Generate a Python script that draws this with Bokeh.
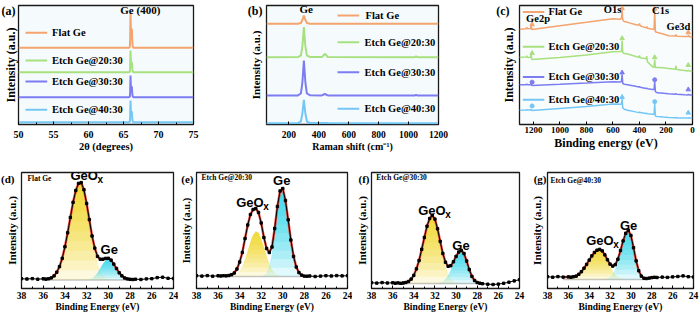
import numpy as np
from bokeh.plotting import figure
from bokeh.models import Range1d, Label, FixedTicker
from bokeh.layouts import column, row
from bokeh.embed import file_html
from bokeh.resources import INLINE

SERIF = "Liberation Serif"
SANS = "Liberation Sans"

SERIES_NAMES = ["Flat Ge", "Etch Ge@20:30", "Etch Ge@30:30", "Etch Ge@40:30"]
SERIES_COLORS = ["#F4A46E", "#A7E07E", "#7D7DF2", "#74C7F5"]

# ---------------- (a) XRD ----------------
xrd_2theta = [50, 65.8, 65.9, 65.95, 66.0, 66.05, 66.1, 66.15, 66.2, 66.25, 66.3, 66.4, 75]
xrd_flat = [76.7, 76.7, 77.2, 84.7, 112.3, 96.7, 86.7, 95.7, 94.7, 84.7, 78.7, 76.7, 76.7]
xrd_e20 = [52.3, 52.3, 52.6, 57.3, 74.0, 64.3, 58.3, 62.3, 61.8, 56.3, 53.3, 52.3, 52.3]
xrd_e30 = [27.3, 27.3, 27.6, 32.3, 49.0, 39.3, 33.3, 38.0, 37.3, 31.3, 28.3, 27.3, 27.3]
xrd_e40 = [2.3, 2.3, 2.6, 7.3, 24.0, 14.3, 8.3, 13.0, 12.3, 6.3, 3.3, 2.3, 2.3]
xrd_ticks = [50, 55, 60, 65, 70, 75]
xrd_minor = [52.5, 57.5, 62.5, 67.5, 72.5]
xrd_legend_y = [91.7, 64.0, 43.0, 14.7]

# ---------------- (b) Raman ----------------
raman_shift = [50, 260, 280, 290, 300, 310, 320, 340, 420, 440, 460, 1040, 1050, 1060, 1200]
raman_flat = [100.7, 100.7, 101.5, 104.5, 109.0, 104.5, 101.5, 100.7, 100.7, 100.7, 100.7, 100.7, 100.7, 100.7, 100.7]
raman_e20 = [67.3, 67.4, 69.0, 78.0, 97.3, 78.0, 69.0, 67.6, 67.4, 70.7, 67.5, 67.3, 68.0, 67.3, 67.3]
raman_e30 = [29.0, 29.1, 31.0, 42.0, 64.0, 42.0, 31.0, 29.3, 29.1, 30.5, 29.1, 29.0, 29.6, 29.0, 29.0]
raman_e40 = [1.3, 1.4, 3.0, 11.0, 24.7, 11.0, 3.0, 1.5, 1.4, 1.6, 1.4, 1.3, 1.3, 1.3, 1.3]
raman_ticks = [200, 400, 600, 800, 1000, 1200]
raman_legend_y = [109.0, 82.3, 52.3, 15.7]

# ---------------- (c) XPS survey ----------------
surv_be = [1305, 1255, 1250, 1245, 1222, 1217, 1212, 1000, 800, 600, 545, 536, 531, 526, 515, 490,
           420, 405, 400, 395, 350, 345, 340, 300, 290, 285, 280, 265, 220, 180, 130, 125, 120,
           60, 35, 30, 25, 0]
surv_flat = [100.0, 100.6, 102.0, 100.7, 100.9, 103.3, 99.8, 103.7, 107.3, 111.0, 110.6, 111.5, 120.0, 110.0, 108.2, 107.3,
             104.5, 104.5, 106.0, 103.8, 101.5, 103.0, 101.0, 100.0, 99.8, 120.0, 97.5, 96.7, 95.0, 93.3, 92.9, 94.5, 92.8,
             92.5, 92.4, 94.0, 92.3, 92.3]
surv_e20 = [70.7, 70.8, 72.0, 70.6, 70.5, 74.0, 68.3, 70.5, 73.0, 76.5, 76.7, 77.0, 88.3, 75.5, 74.5, 74.0,
            71.2, 70.7, 72.5, 70.0, 69.0, 71.7, 66.0, 60.5, 60.2, 68.3, 59.8, 60.0, 59.5, 58.8, 58.0, 61.7, 57.8,
            56.8, 56.3, 57.5, 56.2, 56.0]
surv_e30 = [41.7, 41.8, 42.3, 41.8, 41.8, 42.8, 41.0, 42.2, 43.5, 45.0, 44.6, 45.0, 52.7, 43.2, 42.3, 41.7,
            39.8, 39.4, 39.8, 39.2, 37.9, 38.3, 37.6, 36.8, 36.7, 45.0, 34.5, 33.3, 32.8, 32.3, 31.9, 32.4, 31.8,
            31.3, 31.1, 31.8, 31.0, 31.0]
surv_e40 = [15.0, 15.1, 15.8, 15.1, 15.1, 16.0, 14.8, 16.8, 18.8, 21.5, 21.3, 21.6, 26.7, 17.5, 16.0, 15.0,
            13.0, 12.6, 13.0, 12.5, 11.5, 11.8, 11.2, 10.8, 10.7, 21.7, 8.8, 8.3, 7.8, 7.4, 7.0, 7.4, 6.9,
            6.8, 6.7, 7.2, 6.7, 6.7]
surv_ticks = [1200, 1000, 800, 600, 400, 200, 0]
surv_legend_y = [118.3, 81.7, 50.0, 26.0]
surv_mark_be = [1210, 531, 285, 32]
surv_mark_flat = [105.0, 122.0, 121.5, 96.7]
surv_mark_e20 = [75.0, 90.5, 70.5, 62.3]
surv_mark_e30 = [44.5, 54.5, 47.0, 36.7]
surv_mark_e40 = [19.5, 28.8, 24.0, 12.3]

# ---------------- (d)-(g) Ge 3d ----------------
be_grid = [38, 37.5, 37, 36.5, 36, 35.75, 35.5, 35.25, 35, 34.75, 34.5, 34.25, 34, 33.75, 33.5, 33.25,
           33, 32.75, 32.5, 32.25, 32, 31.75, 31.5, 31.25, 31, 30.75, 30.5, 30.25, 30, 29.75, 29.5, 29.25,
           29, 28.75, 28.5, 28.25, 28, 27.75, 27.5, 27, 26.5, 26, 25.5, 25, 24.5, 24]
be_ticks = [38, 36, 34, 32, 30, 28, 26, 24]
be_minor = [37, 35, 33, 31, 29, 27, 25]

d_data = [9.8, 9.5, 9.9, 9.3, 9.7, 9.4, 9.8, 10.6, 12.6, 16.3, 21.9, 30.1, 41.8, 55.7, 71.0, 86.2,
          98.0, 105.1, 105.9, 98.8, 85.0, 68.9, 52.5, 40.4, 32.1, 29.3, 29.3, 30.1, 30.2, 28.4, 24.4, 20.0,
          15.7, 12.6, 10.5, 9.6, 9.2, 9.0, 9.3, 9.0, 9.6, 9.8, 10.9, 11.3, 10.2, 10.0]
d_geox = [0, 0, 0, 0, 0.2, 0.4, 0.9, 2.0, 4.0, 7.6, 13.3, 21.7, 33.1, 47.1, 62.6, 77.5,
          89.7, 96.8, 97.3, 90.0, 76.4, 59.4, 42.4, 27.8, 16.7, 9.2, 4.6, 2.1, 0.9, 0.4, 0.1, 0,
          0, 0, 0, 0, 0, 0, 0, 0, 0, 0, 0, 0, 0, 0]
d_ge = [0, 0, 0, 0, 0, 0, 0, 0, 0, 0, 0, 0, 0, 0, 0, 0,
        0, 0, 0, 0.1, 0.3, 0.8, 1.8, 3.9, 7.1, 11.4, 16.0, 19.6, 21.0, 19.6, 16.0, 11.4,
        7.1, 3.9, 1.8, 0.8, 0.3, 0.1, 0, 0, 0, 0, 0, 0, 0, 0]
d_base = 8.5

e_data = [12.8, 12.4, 12.9, 12.3, 12.7, 12.5, 12.8, 12.6, 13.0, 13.8, 15.5, 19.5, 26.5, 36.0, 50.0, 63.5,
          74.0, 79.0, 80.0, 76.0, 65.5, 51.0, 40.0, 36.0, 41.5, 60.0, 82.0, 97.5, 100.0, 88.0, 68.7, 48.5,
          32.1, 21.5, 15.9, 13.4, 12.4, 12.3, 12.5, 12.0, 12.4, 12.8, 12.5, 12.9, 12.6, 12.8]
e_geox = [0, 0, 0, 0, 0, 0, 0, 0, 0.1, 0.4, 1.1, 2.5, 5.3, 10.0, 16.9, 25.5,
          34.4, 41.5, 44.9, 43.4, 37.6, 29.1, 20.2, 12.5, 7.0, 3.4, 1.5, 0.6, 0.2, 0.1, 0, 0,
          0, 0, 0, 0, 0, 0, 0, 0, 0, 0, 0, 0, 0, 0]
e_ge = [0, 0, 0, 0, 0, 0, 0, 0, 0, 0, 0, 0, 0, 0, 0, 0,
        0, 0, 0, 0, 0.2, 1.0, 3.4, 9.9, 23.1, 43.8, 67.5, 84.8, 86.9, 75.8, 56.7, 36.5,
        20.1, 9.5, 3.9, 1.4, 0.4, 0.1, 0, 0, 0, 0, 0, 0, 0, 0]
e_base = 12.0

f_data = [5.8, 5.4, 5.9, 5.5, 5.7, 5.3, 5.6, 5.2, 5.5, 6.0, 7.0, 9.4, 13.1, 19.6, 28.0, 39.2,
          51.0, 62.3, 70.0, 73.1, 69.4, 59.7, 47.1, 35.0, 26.3, 22.2, 22.8, 26.7, 32.1, 36.5, 38.1, 35.0,
          27.5, 18.9, 12.1, 8.0, 6.0, 5.3, 4.8, 4.3, 4.0, 4.4, 5.2, 6.3, 7.6, 8.8]
f_geox = [0, 0, 0, 0, 0, 0, 0, 0.1, 0.4, 0.9, 2.1, 4.3, 8.2, 14.4, 23.1, 34.1,
          46.1, 57.2, 65.1, 68.0, 64.3, 54.4, 41.2, 28.0, 17.0, 9.2, 4.5, 1.9, 0.8, 0.3, 0.1, 0,
          0, 0, 0, 0, 0, 0, 0, 0, 0, 0, 0, 0, 0, 0]
f_ge = [0, 0, 0, 0, 0, 0, 0, 0, 0, 0, 0, 0, 0, 0, 0, 0,
        0, 0, 0, 0, 0.1, 0.3, 0.9, 2.0, 4.3, 8.0, 13.3, 19.8, 26.3, 31.2, 33.0, 30.0,
        22.5, 13.9, 7.1, 3.0, 1.0, 0.3, 0.1, 0, 0, 0, 0, 0, 0, 0]
f_base = 5.0

g_data = [11.8, 11.3, 11.9, 11.4, 11.6, 11.3, 11.8, 12.4, 14.2, 16.8, 20.3, 24.1, 28.4, 32.6, 36.0, 38.3,
          39.1, 37.6, 33.6, 28.7, 24.4, 22.4, 23.9, 29.3, 38.0, 47.6, 55.2, 58.1, 53.0, 40.8, 27.6, 17.8,
          12.4, 10.3, 10.0, 10.4, 10.9, 11.2, 11.0, 11.4, 11.1, 11.6, 12.0, 12.6, 11.8, 11.5]
g_geox = [0, 0, 0, 0.1, 0.6, 1.1, 2.0, 3.3, 5.3, 7.9, 11.3, 15.2, 19.4, 23.5, 26.9, 29.2,
          30.0, 28.5, 24.4, 18.8, 13.0, 8.2, 4.6, 2.3, 1.1, 0.4, 0.2, 0.1, 0, 0, 0, 0,
          0, 0, 0, 0, 0, 0, 0, 0, 0, 0, 0, 0, 0, 0]
g_ge = [0, 0, 0, 0, 0, 0, 0, 0, 0, 0, 0, 0, 0, 0, 0, 0,
        0, 0, 0.3, 0.9, 2.3, 5.2, 10.3, 18.0, 27.9, 38.2, 46.0, 49.0, 44.0, 31.8, 18.6, 8.7,
        3.3, 1.0, 0.2, 0, 0, 0, 0, 0, 0, 0, 0, 0, 0, 0]
g_base = 9.0

YELLOW = "#F1D400"
CYAN = "#10CDE6"
RED = "#E8483C"


def base_fig(width, height, xr, yr, borders, tag, tag_y, tag_size, tag_standoff, ylab_size, ylab_standoff, bg="white"):
    bl, br, bt, bb = borders
    p = figure(width=width, height=height, x_range=Range1d(*xr), y_range=Range1d(*yr),
               output_backend="svg", toolbar_location=None,
               min_border_left=bl, min_border_right=br, min_border_top=bt, min_border_bottom=bb)
    p.background_fill_color = bg
    p.border_fill_color = "white"
    p.outline_line_color = "#1a1a1a"
    p.outline_line_width = 1.3
    p.xgrid.visible = False
    p.ygrid.visible = False
    # y axis: no ticks; the panel tag is carried by a single tick label near the top,
    # the axis title is pulled over that tick-label column.
    ya = p.yaxis[0]
    ya.ticker = FixedTicker(ticks=[tag_y])
    ya.major_label_overrides = {tag_y: tag}
    ya.major_label_orientation = "horizontal"
    ya.major_label_text_font = SERIF
    ya.major_label_text_font_style = "bold"
    ya.major_label_text_font_size = f"{tag_size}px"
    ya.major_label_text_color = "black"
    ya.major_label_standoff = tag_standoff
    ya.major_tick_out = 0
    ya.major_tick_in = 0
    ya.minor_tick_out = 0
    ya.minor_tick_in = 0
    ya.axis_line_color = None
    ya.axis_label = "Intensity (a.u.)"
    ya.axis_label_text_font = SERIF
    ya.axis_label_text_font_style = "bold"
    ya.axis_label_text_font_size = f"{ylab_size}px"
    ya.axis_label_text_color = "black"
    ya.axis_label_standoff = ylab_standoff
    xa = p.xaxis[0]
    xa.axis_line_color = None
    xa.major_tick_in = 3
    xa.major_tick_out = 0
    xa.minor_tick_in = 2
    xa.minor_tick_out = 0
    xa.major_tick_line_color = "black"
    xa.minor_tick_line_color = "black"
    xa.major_label_text_font = SERIF
    xa.major_label_text_font_style = "bold"
    xa.major_label_text_color = "black"
    xa.axis_label_text_font = SERIF
    xa.axis_label_text_font_style = "bold"
    xa.axis_label_text_color = "black"
    xa.axis_label_standoff = 0
    return p


def txt(p, x, y, s, size, font=SERIF, align="left", baseline="middle", x_offset=0, y_offset=0):
    p.add_layout(Label(x=x, y=y, text=s, text_font=font, text_font_size=f"{size}px",
                       text_font_style="bold", text_color="black", text_align=align,
                       text_baseline=baseline, x_offset=x_offset, y_offset=y_offset))


# ---------- (a) ----------
pa = base_fig(240, 160, (50, 75), (0, 119), (18, 47, 5, 36), "(a)", 114, 12, 3, 12, -19, bg="#F5FBFD")
pa.xaxis[0].ticker = FixedTicker(ticks=xrd_ticks, minor_ticks=xrd_minor)
pa.xaxis[0].major_label_text_font_size = "10px"
pa.xaxis[0].major_label_standoff = 6
pa.xaxis[0].axis_label = "2\u03b8 (degrees)"
pa.xaxis[0].axis_label_text_font_size = "10.5px"
for ys, col, ly, name in zip([xrd_flat, xrd_e20, xrd_e30, xrd_e40], SERIES_COLORS, xrd_legend_y, SERIES_NAMES):
    pa.line(xrd_2theta, ys, line_color=col, line_width=2)
    pa.segment(x0=[51.0], y0=[ly], x1=[54.1], y1=[ly], line_color=col, line_width=2)
    txt(pa, 54.8, ly, name, 10.5)
txt(pa, 67.4, 114.3, "Ge (400)", 11, align="center")

# ---------- (b) ----------
pb = base_fig(215, 160, (50, 1200), (0, 119), (26, 17, 5, 36), "(b)", 114, 12, 4, 11, -17, bg="#F5FBFD")
pb.xaxis[0].ticker = FixedTicker(ticks=raman_ticks)
pb.xaxis[0].major_label_text_font_size = "9.5px"
pb.xaxis[0].major_label_standoff = 6
pb.xaxis[0].axis_label = "Raman shift (cm\u207b\u00b9)"
pb.xaxis[0].axis_label_text_font_size = "10px"
for ys, col, ly, name in zip([raman_flat, raman_e20, raman_e30, raman_e40], SERIES_COLORS, raman_legend_y, SERIES_NAMES):
    pb.line(raman_shift, ys, line_color=col, line_width=2)
    pb.segment(x0=[525], y0=[ly], x1=[670], y1=[ly], line_color=col, line_width=2)
    txt(pb, 705 if name != "Flat Ge" else 712, ly, name, 10.5)
txt(pb, 316, 115.7, "Ge", 11, align="center")

# ---------- (c) ----------
pc = base_fig(245, 160, (1305, 0), (0, 125), (64, 8, 5, 30), "(c)", 119, 12, 10, 12, -23, bg="#F8FCFD")
pc.xaxis[0].ticker = FixedTicker(ticks=surv_ticks)
pc.xaxis[0].major_label_text_font_size = "9px"
pc.xaxis[0].major_label_standoff = 2
pc.xaxis[0].axis_label = "Binding energy (eV)"
pc.xaxis[0].axis_label_text_font_size = "12px"
marks = [surv_mark_flat, surv_mark_e20, surv_mark_e30, surv_mark_e40]
for i, (ys, col, ly, name) in enumerate(zip([surv_flat, surv_e20, surv_e30, surv_e40], SERIES_COLORS, surv_legend_y, SERIES_NAMES)):
    pc.line(surv_be, ys, line_color=col, line_width=1.5)
    pc.segment(x0=[1280], y0=[ly], x1=[1118], y1=[ly], line_color=col, line_width=2)
    txt(pc, 1086, ly, name, 10.5)
    mk = marks[i]
    if i < 2:
        pc.scatter(surv_mark_be, mk, marker="triangle", size=4.5, color=col)
    else:
        pc.scatter([surv_mark_be[0], surv_mark_be[2]], [mk[0], mk[2]], marker="circle", size=4, color=col)
        pc.scatter([surv_mark_be[1], surv_mark_be[3]], [mk[1], mk[3]], marker="triangle", size=4.5, color=col)
txt(pc, 1165, 111, "Ge2p", 10.5, align="center")
txt(pc, 603, 120.8, "O1s", 10.5, align="center")
txt(pc, 241, 120.0, "C1s", 10.5, align="center")
txt(pc, 106, 102.5, "Ge3d", 10.5, align="center")


# ---------- (d)-(g) ----------
def grad_fill(p, x, comp, base, color, n=10, alpha=0.13):
    comp = np.asarray(comp, dtype=float)
    amp = comp.max()
    for k in range(n):
        lev = amp * k / n
        p.varea(x=x, y1=base + np.minimum(comp, lev), y2=base + comp, fill_color=color, fill_alpha=alpha)


def xps_panel(width, borders, data, geox, ge, base, sample, tag, tag_standoff, ylab_size, ylab_standoff,
              sample_xy, geox_xy, ge_xy):
    p = base_fig(width, 158, (38, 24), (0, 116), borders, tag, 110, 11, tag_standoff, ylab_size, ylab_standoff)
    p.xaxis[0].ticker = FixedTicker(ticks=be_ticks, minor_ticks=be_minor)
    p.xaxis[0].major_label_text_font_size = "9.5px"
    p.xaxis[0].major_label_standoff = 3
    p.xaxis[0].axis_label = "Binding Energy (eV)"
    p.xaxis[0].axis_label_text_font_size = "9.5px"
    x = np.asarray(be_grid, dtype=float)
    g1 = np.asarray(geox, dtype=float)
    g2 = np.asarray(ge, dtype=float)
    dat = np.asarray(data, dtype=float)
    mask = (g1 + g2) > 0.3
    idx = np.where(mask)[0]
    lo, hi = max(idx[0] - 1, 0), min(idx[-1] + 1, len(x) - 1)
    p.line(x[lo:hi + 1], np.full(hi - lo + 1, base), line_color="#C4C4C4", line_width=1.5)
    grad_fill(p, x, g1, base, YELLOW)
    grad_fill(p, x, g2, base, CYAN)
    p.line(x[lo:hi + 1], dat[lo:hi + 1], line_color=RED, line_width=2.4)
    p.line(x, dat, line_color="black", line_width=1)
    p.scatter(x, dat, marker="square", size=2.4, color="black")
    txt(p, sample_xy[0], sample_xy[1], sample, 7.5)
    txt(p, geox_xy[0], geox_xy[1], "GeO", 13, font=SANS)
    txt(p, geox_xy[0], geox_xy[1], "x", 10, font=SANS, x_offset=27, y_offset=-4)
    txt(p, ge_xy[0], ge_xy[1], "Ge", 13, font=SANS)
    return p


pd_ = xps_panel(178, (21, 5, 12, 30), d_data, d_geox, d_ge, d_base, "Flat Ge", "(d)", 7, 11, -20,
                (37.45, 110), (33.49, 113), (30.72, 39.5))
pe_ = xps_panel(174, (17, 5, 12, 30), e_data, e_geox, e_ge, e_base, "Etch Ge@20:30", "(e)", 3, 10.5, -14,
                (37.54, 111), (34.32, 86), (30.9, 108))
pf_ = xps_panel(175, (15, 8, 12, 30), f_data, f_geox, f_ge, f_base, "Etch Ge@30:30", "(f)", 2, 11, -12,
                (37.54, 111), (33.58, 78), (30.36, 43))
pg_ = xps_panel(173, (15, 7, 12, 30), g_data, g_geox, g_ge, g_base, "Etch Ge@40:30", "(g)", 1, 11, -12,
                (37.72, 108), (34.29, 48), (31.05, 63))

layout = column(row(pa, pb, pc), row(pd_, pe_, pf_, pg_))
open("out.html", "w").write(file_html(layout, INLINE))
